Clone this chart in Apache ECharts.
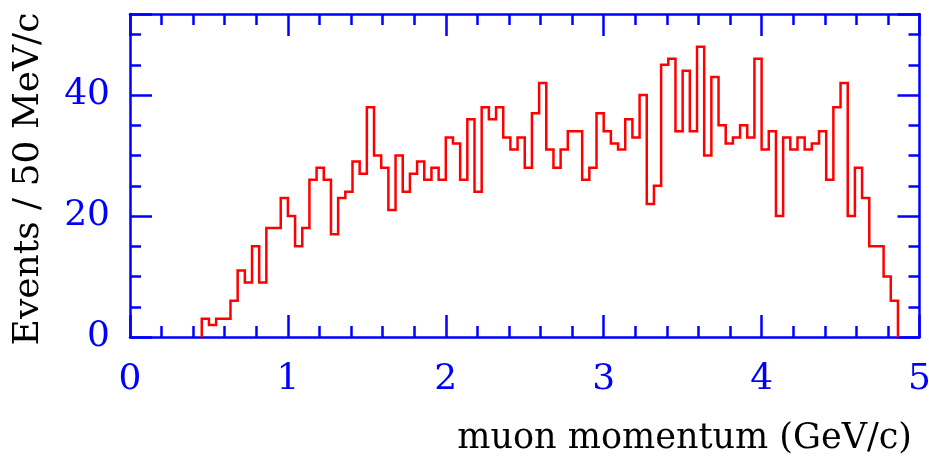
<!DOCTYPE html>
<html>
<head>
<meta charset="utf-8">
<title>Muon momentum</title>
<script src="https://cdn.jsdelivr.net/npm/echarts@6/dist/echarts.min.js"></script>
<style>
  html, body { margin: 0; padding: 0; background: #ffffff; }
  #chart { width: 929px; height: 460px; }
</style>
</head>
<body>
<div id="chart"></div>
<script>
// Histogram binning: 110 equal bins over 0–5 GeV/c, filled from bin 10 upward
const binWidth = 5 / 110;
const firstBin = 10;
const counts = [
  3, 2, 3, 3, 6, 11, 9, 15, 9, 18, 18, 23, 20, 15, 18, 26, 28, 26, 17, 23, 24, 29, 27,
  38, 30, 28, 21, 30, 24, 27, 29, 26, 28, 26, 33, 32, 26, 36, 24, 38, 36, 38, 33, 31, 33, 28, 37, 42,
  31, 28, 31, 34, 34, 26, 28, 37, 34, 32, 31, 36, 33, 40, 22, 25, 45, 46, 34, 44, 34, 48, 30, 43,
  35, 32, 33, 35, 33, 46, 31, 34, 20, 33, 31, 33, 31, 32, 34, 26, 38, 42, 20, 28, 23, 15, 15, 10, 6
];

// Axis ranges and labels
const xRange = [0, 5];
const yRange = [0, 53.4];
const xTitle = 'muon momentum (GeV/c)';
const yTitle = 'Events / 50 MeV/c';

const BLUE = '#0000ff';
const RED = '#ff0000';
const SERIF = '"DejaVu Serif", serif';

// Step outline: rises from the baseline at the first edge, drops back at the last edge
const outline = [];
const startEdge = firstBin * binWidth;
const endEdge = (firstBin + counts.length) * binWidth;
outline.push([startEdge, 0]);
counts.forEach((c, i) => outline.push([(firstBin + i) * binWidth, c]));
outline.push([endEdge, counts[counts.length - 1]]);
outline.push([endEdge, 0]);

const lineStyle = { color: BLUE, width: 2.5 };
const tickStyle = { color: BLUE, width: 2.5 };

function xAxisDef(position, withLabels) {
  return {
    type: 'value', position, min: xRange[0], max: xRange[1], interval: 1,
    axisLine: { show: true, onZero: false, lineStyle },
    axisTick: { show: true, inside: true, length: 22, lineStyle: tickStyle },
    minorTick: { show: true, splitNumber: 5, length: 11, lineStyle: tickStyle },
    splitLine: { show: false }, minorSplitLine: { show: false },
    axisLabel: {
      show: withLabels, color: BLUE, fontFamily: SERIF, fontSize: 36, margin: 25,
      showMinLabel: true, showMaxLabel: true,
      formatter: v => String(Math.round(v))
    }
  };
}

function yAxisDef(position, interval, tickLen, withLabels, withLine) {
  return {
    type: 'value', position, min: yRange[0], max: yRange[1], interval,
    axisLine: { show: withLine, onZero: false, lineStyle },
    axisTick: { show: true, inside: true, length: tickLen, lineStyle: tickStyle },
    splitLine: { show: false },
    axisLabel: {
      show: withLabels, color: BLUE, fontFamily: SERIF, fontSize: 36, margin: 20,
      showMinLabel: true, showMaxLabel: true,
      formatter: v => (Math.abs(v % 20) < 1e-6 ? String(Math.round(v)) : '')
    }
  };
}

const chart = echarts.init(document.getElementById('chart'), null, { renderer: 'canvas' });
chart.setOption({
  animation: false,
  backgroundColor: '#ffffff',
  grid: { left: 130, right: 9.5, top: 14, bottom: 123, containLabel: false, outerBoundsMode: 'none' },
  xAxis: [xAxisDef('bottom', true), xAxisDef('top', false)],
  yAxis: [
    yAxisDef('left', 20, 22, true, true),
    yAxisDef('left', 5, 11, false, false),
    yAxisDef('right', 20, 22, false, true),
    yAxisDef('right', 5, 11, false, false)
  ],
  series: [{
    type: 'line',
    step: 'end',
    xAxisIndex: 0,
    yAxisIndex: 0,
    data: outline,
    symbol: 'none',
    lineStyle: { color: RED, width: 2.5, join: 'miter' },
    silent: true
  }],
  graphic: [
    {
      type: 'text', x: 912, y: 439,
      style: { text: xTitle, font: '35px ' + SERIF, fill: '#000000', align: 'right', verticalAlign: 'middle' }
    },
    {
      type: 'text', x: 29, y: 179, rotation: Math.PI / 2,
      style: { text: yTitle, font: '36px ' + SERIF, fill: '#000000', align: 'center', verticalAlign: 'middle' }
    }
  ]
});
</script>
</body>
</html>
